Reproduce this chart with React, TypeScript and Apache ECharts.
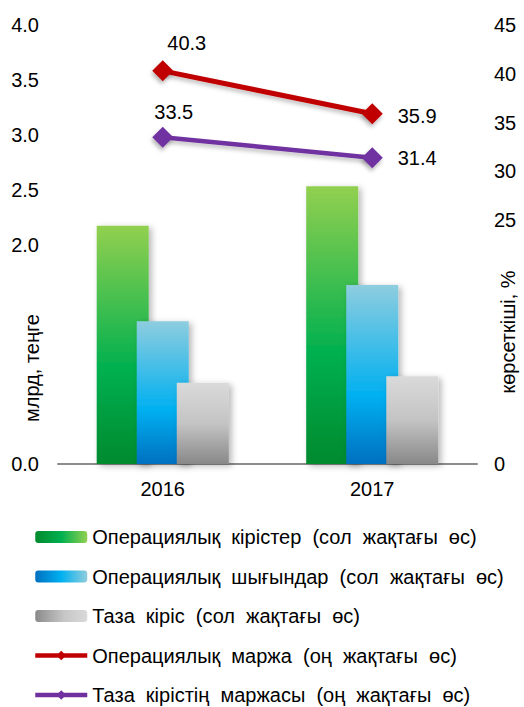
import React, { useEffect, useRef } from 'react';
import * as echarts from 'echarts';

const categories = ['2016', '2017'];
const operatingIncome = [2.17, 2.53];
const operatingExpenses = [1.3, 1.63];
const netIncome = [0.74, 0.8];
const operatingMargin = [40.3, 35.9];
const netMargin = [33.5, 31.4];

const seriesNames = [
  'Операциялық  кірістер  (сол  жақтағы  өс)',
  'Операциялық  шығындар  (сол  жақтағы  өс)',
  'Таза  кіріс  (сол  жақтағы  өс)',
  'Операциялық  маржа  (оң  жақтағы  өс)',
  'Таза  кірістің  маржасы  (оң  жақтағы  өс)',
];

const leftAxisName = 'млрд, теңге';
const rightAxisName = 'көрсеткіші, %';
const leftTickLabelsShown = [0, 2, 2.5, 3, 3.5, 4];
const rightTickLabelsShown = [0, 25, 30, 35, 40, 45];

const FONT = '"Liberation Sans", Arial, sans-serif';

const vGrad = (stops: [number, string][]) =>
  new echarts.graphic.LinearGradient(0, 0, 0, 1, stops.map(([offset, color]) => ({ offset, color })));
const hGrad = (stops: [number, string][]) =>
  new echarts.graphic.LinearGradient(0, 0, 1, 0, stops.map(([offset, color]) => ({ offset, color })));

const barShadow = {
  shadowColor: 'rgba(0,0,0,0.28)',
  shadowBlur: 6,
  shadowOffsetX: 3,
  shadowOffsetY: 2,
};

// label placement for the line points (first year above, second year to the right)
const redLabelLayout = [
  { position: 'top', offset: [24, -2] },
  { position: 'right', offset: [10, 2] },
];
const purpleLabelLayout = [
  { position: 'top', offset: [11, 0] },
  { position: 'right', offset: [10, 0] },
];

export default function App() {
  const ref = useRef<HTMLDivElement>(null);

  useEffect(() => {
    if (!ref.current) return;
    const chart = echarts.init(ref.current, undefined, { renderer: 'svg' });

    const lineData = (values: number[], layout: any[]) =>
      values.map((v, i) => ({
        value: v,
        label: { position: layout[i].position, offset: layout[i].offset },
      }));

    const option: any = {
      animation: false,
      backgroundColor: '#ffffff',
      textStyle: { fontFamily: FONT },
      grid: { left: 58, right: 47, top: 25, bottom: 243 },
      legend: {
        orient: 'vertical',
        left: 33,
        top: 527,
        padding: 0,
        itemWidth: 52,
        itemHeight: 12,
        itemGap: 19.5,
        textStyle: { fontFamily: FONT, fontSize: 20, color: '#000', lineHeight: 20 },
        data: [
          { name: seriesNames[0], itemStyle: { color: hGrad([[0, '#008A2E'], [0.5, '#00B050'], [1, '#92D050']]) } },
          { name: seriesNames[1], itemStyle: { color: hGrad([[0, '#0070C0'], [0.5, '#00B0F0'], [1, '#92CDDC']]) } },
          { name: seriesNames[2], itemStyle: { color: hGrad([[0, '#8A8A8A'], [0.55, '#C6C6C6'], [1, '#DADADA']]) } },
          { name: seriesNames[3], lineStyle: { width: 4.5 }, itemStyle: { shadowBlur: 0 } },
          { name: seriesNames[4], lineStyle: { width: 4.5 }, itemStyle: { shadowBlur: 0 } },
        ],
      },
      xAxis: {
        type: 'category',
        data: categories,
        axisLine: { lineStyle: { color: '#8C8C8C', width: 2 } },
        axisTick: { show: false },
        axisLabel: { fontFamily: FONT, fontSize: 20, color: '#000', margin: 15 },
      },
      yAxis: [
        {
          type: 'value',
          min: 0,
          max: 4,
          interval: 0.5,
          splitLine: { show: false },
          axisLine: { show: false },
          axisTick: { show: false },
          axisLabel: {
            fontFamily: FONT,
            fontSize: 20,
            color: '#000',
            margin: 19,
            formatter: (v: number) => (leftTickLabelsShown.some((s) => Math.abs(s - v) < 1e-9) ? v.toFixed(1) : ''),
          },
        },
        {
          type: 'value',
          min: 0,
          max: 45,
          interval: 5,
          splitLine: { show: false },
          axisLine: { show: false },
          axisTick: { show: false },
          axisLabel: {
            fontFamily: FONT,
            fontSize: 20,
            color: '#000',
            margin: 17,
            formatter: (v: number) => (rightTickLabelsShown.some((s) => Math.abs(s - v) < 1e-9) ? String(v) : ''),
          },
        },
      ],
      graphic: [
        {
          type: 'text',
          x: 32,
          y: 368,
          rotation: Math.PI / 2,
          z: 100,
          style: {
            text: leftAxisName,
            fontFamily: FONT,
            fontSize: 20,
            fill: '#000',
            align: 'center',
            verticalAlign: 'middle',
          },
        },
        {
          type: 'text',
          x: 508,
          y: 332,
          rotation: Math.PI / 2,
          z: 100,
          style: {
            text: rightAxisName,
            fontFamily: FONT,
            fontSize: 20,
            fill: '#000',
            align: 'center',
            verticalAlign: 'middle',
          },
        },
      ],
      series: [
        {
          name: seriesNames[0],
          type: 'bar',
          yAxisIndex: 0,
          barWidth: 52,
          barGap: '-23%',
          data: operatingIncome,
          itemStyle: {
            color: vGrad([[0, '#92D050'], [0.6, '#00B050'], [1, '#008A2E']]),
            ...barShadow,
          },
        },
        {
          name: seriesNames[1],
          type: 'bar',
          yAxisIndex: 0,
          barWidth: 52,
          barGap: '-23%',
          data: operatingExpenses,
          itemStyle: {
            color: vGrad([[0, '#8ECDDF'], [0.62, '#00B0F0'], [1, '#0070C0']]),
            ...barShadow,
          },
        },
        {
          name: seriesNames[2],
          type: 'bar',
          yAxisIndex: 0,
          barWidth: 52,
          barGap: '-23%',
          data: netIncome,
          itemStyle: {
            color: vGrad([[0, '#DADADA'], [0.5, '#C4C4C4'], [1, '#888888']]),
            ...barShadow,
          },
        },
        {
          name: seriesNames[3],
          type: 'line',
          yAxisIndex: 1,
          data: lineData(operatingMargin, redLabelLayout),
          symbol: 'diamond',
          symbolSize: 21,
          itemStyle: {
            color: '#C00000',
            shadowColor: 'rgba(0,0,0,0.3)',
            shadowBlur: 4,
            shadowOffsetX: -1,
            shadowOffsetY: 3,
          },
          lineStyle: {
            color: '#C00000',
            width: 5,
            shadowColor: 'rgba(0,0,0,0.25)',
            shadowBlur: 4,
            shadowOffsetY: 3,
          },
          label: {
            show: true,
            fontFamily: FONT,
            fontSize: 20,
            color: '#000',
            formatter: (p: any) => Number(p.value).toFixed(1),
          },
          z: 5,
        },
        {
          name: seriesNames[4],
          type: 'line',
          yAxisIndex: 1,
          data: lineData(netMargin, purpleLabelLayout),
          symbol: 'diamond',
          symbolSize: 21,
          itemStyle: {
            color: '#7030A0',
            shadowColor: 'rgba(0,0,0,0.3)',
            shadowBlur: 4,
            shadowOffsetX: -1,
            shadowOffsetY: 3,
          },
          lineStyle: {
            color: '#7030A0',
            width: 4.5,
            shadowColor: 'rgba(0,0,0,0.25)',
            shadowBlur: 4,
            shadowOffsetY: 3,
          },
          label: {
            show: true,
            fontFamily: FONT,
            fontSize: 20,
            color: '#000',
            formatter: (p: any) => Number(p.value).toFixed(1),
          },
          z: 5,
        },
      ],
    };

    chart.setOption(option);
    return () => chart.dispose();
  }, []);

  return (
    <div
      ref={ref}
      style={{ position: 'fixed', left: 0, top: 0, width: 524, height: 707, background: '#fff' }}
    />
  );
}
